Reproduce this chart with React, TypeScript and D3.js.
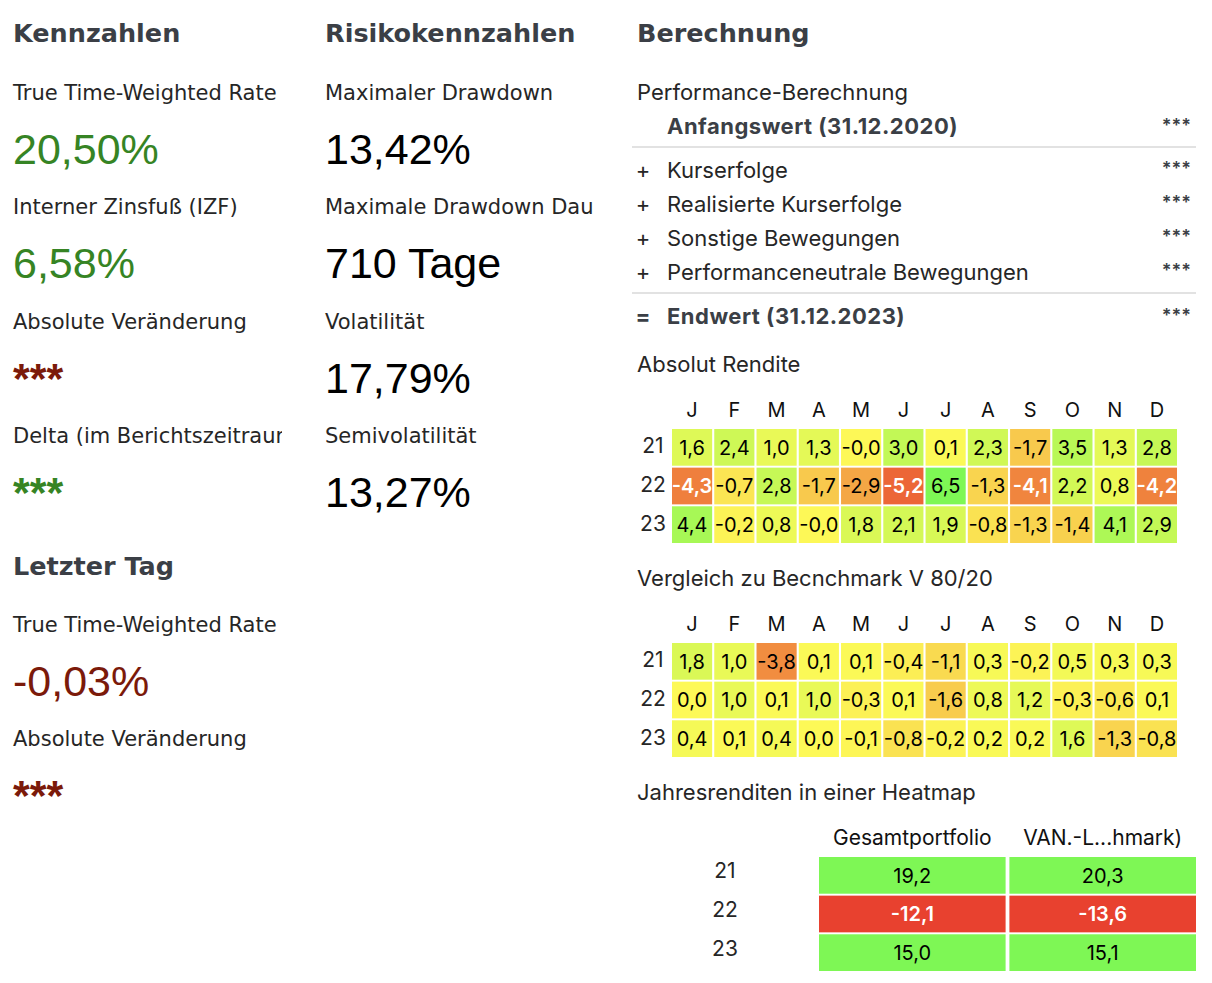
import * as d3 from "d3";

// ---- data ----
const kennLabels = ["True Time-Weighted Rate", "Interner Zinsfuß (IZF)", "Absolute Veränderung", "Delta (im Berichtszeitraum)"];
const kennValues = ["20,50%", "6,58%", "***", "***"];
const kennTones = ["pos", "pos", "neg", "pos"];

const risikoLabels = ["Maximaler Drawdown", "Maximale Drawdown Dauer", "Volatilität", "Semivolatilität"];
const risikoValues = ["13,42%", "710 Tage", "17,79%", "13,27%"];

const letzterLabels = ["True Time-Weighted Rate", "Absolute Veränderung"];
const letzterValues = ["-0,03%", "***"];
const letzterTones = ["neg", "neg"];

const perfSigns = ["+", "+", "+", "+"];
const perfRows = ["Kurserfolge", "Realisierte Kurserfolge", "Sonstige Bewegungen", "Performanceneutrale Bewegungen"];

const months = ["J", "F", "M", "A", "M", "J", "J", "A", "S", "O", "N", "D"];
const years = ["21", "22", "23"];

const absolutRendite = [
  [1.6, 2.4, 1.0, 1.3, -0.02, 3.0, 0.1, 2.3, -1.7, 3.5, 1.3, 2.8],
  [-4.3, -0.7, 2.8, -1.7, -2.9, -5.2, 6.5, -1.3, -4.1, 2.2, 0.8, -4.2],
  [4.4, -0.2, 0.8, -0.02, 1.8, 2.1, 1.9, -0.8, -1.3, -1.4, 4.1, 2.9],
];
const vergleichBenchmark = [
  [1.8, 1.0, -3.8, 0.1, 0.1, -0.4, -1.1, 0.3, -0.2, 0.5, 0.3, 0.3],
  [0.0, 1.0, 0.1, 1.0, -0.3, 0.1, -1.6, 0.8, 1.2, -0.3, -0.6, 0.1],
  [0.4, 0.1, 0.4, 0.0, -0.1, -0.8, -0.2, 0.2, 0.2, 1.6, -1.3, -0.8],
];
const jahresSeries = ["Gesamtportfolio", "VAN.-L...hmark)"];
const gesamtportfolio = [19.2, -12.1, 15.0];
const benchmark = [20.3, -13.6, 15.1];

// ---- style ----
const HEAD = "#3b3f46";
const LABEL = "#262626";
const GREEN = "#368424";
const RED = "#7b1a0a";
const labelFont = "'DejaVu Sans', sans-serif";
const sysFont = "Inter, 'Liberation Sans', sans-serif";
const numFont = "'Liberation Sans', Arial, sans-serif";

const color = d3
  .scaleLinear<string>()
  .domain([-6.5, 0, 6.5])
  .range(["#e8412f", "#fdf957", "#7ef755"])
  .clamp(true);

const fmt = (v: number) => (v < 0 ? "-" : "") + Math.abs(v).toFixed(1).replace(".", ",");
const textColor = (v: number) => (v <= -4 ? "#ffffff" : "#000000");
const toneColor = (t: string) => (t === "pos" ? GREEN : t === "neg" ? RED : "#000");

function Heatmap({ top, data }: { top: number; data: number[][] }) {
  const x = d3.scaleBand<number>().domain(d3.range(months.length)).range([672, 1177]).paddingInner(0.05);
  const y = d3.scaleBand<string>().domain(years).range([top, top + 114]).paddingInner(0.05);
  return (
    <g fontFamily={sysFont}>
      {months.map((m, i) => (
        <text key={i} x={x(i)! + x.bandwidth() / 2} y={top - 12} textAnchor="middle" fontSize={20} fill="#111">
          {m}
        </text>
      ))}
      {years.map((yr, r) => (
        <g key={yr}>
          <text x={653} y={y(yr)! + y.bandwidth() / 2 + 6} textAnchor="middle" fontSize={21} fill={LABEL}>
            {yr}
          </text>
          {data[r].map((v, c) => (
            <g key={c}>
              <rect x={x(c)} y={y(yr)} width={x.bandwidth()} height={y.bandwidth()} fill={color(v)} />
              <text
                x={x(c)! + x.bandwidth() / 2}
                y={y(yr)! + y.bandwidth() / 2}
                dy="0.36em"
                textAnchor="middle"
                fontSize={20}
                fontWeight={v <= -4 ? 600 : 400}
                fill={textColor(v)}
              >
                {fmt(v)}
              </text>
            </g>
          ))}
        </g>
      ))}
    </g>
  );
}

function JahresHeatmap({ top }: { top: number }) {
  const cols = [gesamtportfolio, benchmark];
  const x = d3.scaleBand<string>().domain(jahresSeries).range([819, 1196]).paddingInner(0.02);
  const y = d3.scaleBand<string>().domain(years).range([top, top + 114]).paddingInner(0.05);
  return (
    <g fontFamily={sysFont}>
      {jahresSeries.map((s) => (
        <text key={s} x={x(s)! + x.bandwidth() / 2} y={top - 12} textAnchor="middle" fontSize={21} fill="#111">
          {s}
        </text>
      ))}
      {years.map((yr, r) => (
        <g key={yr}>
          <text x={725} y={y(yr)! + y.bandwidth() / 2 + 3} textAnchor="middle" fontSize={21} fill={LABEL}>
            {yr}
          </text>
          {jahresSeries.map((s, c) => {
            const v = cols[c][r];
            return (
              <g key={s}>
                <rect x={x(s)} y={y(yr)} width={x.bandwidth()} height={y.bandwidth()} fill={color(v)} />
                <text
                  x={x(s)! + x.bandwidth() / 2}
                  y={y(yr)! + y.bandwidth() / 2}
                  dy="0.36em"
                  textAnchor="middle"
                  fontSize={20}
                  fontWeight={v <= -4 ? 600 : 400}
                  fill={textColor(v)}
                >
                  {fmt(v)}
                </text>
              </g>
            );
          })}
        </g>
      ))}
    </g>
  );
}

function Block({ x, labels, values, tones, y0, clip }: {
  x: number; labels: string[]; values: string[]; tones: string[]; y0: number; clip: string;
}) {
  const row = d3.scaleLinear().domain([0, 1]).range([y0, y0 + 114.3]);
  return (
    <g clipPath={`url(#${clip})`}>
      {labels.map((l, i) => (
        <g key={i}>
          <text x={x} y={row(i)} fontFamily={labelFont} fontSize={21} fill={LABEL}>
            {l}
          </text>
          <text
            x={x}
            y={row(i) + 64}
            fontFamily={numFont}
            fontSize={43}
            fontWeight={values[i] === "***" ? "bold" : "normal"}
            fill={toneColor(tones[i])}
          >
            {values[i]}
          </text>
        </g>
      ))}
    </g>
  );
}

export default function App() {
  const perfY = d3.scaleLinear().domain([0, 1]).range([178, 212]);
  return (
    <svg
      width={1212}
      height={983}
      style={{ position: "absolute", left: 0, top: 0, background: "#fff" }}
    >
      <defs>
        <clipPath id="c1">
          <rect x={0} y={0} width={282} height={983} />
        </clipPath>
        <clipPath id="c2">
          <rect x={300} y={0} width={293} height={983} />
        </clipPath>
      </defs>

      {/* headings */}
      <g fontFamily={labelFont} fontWeight="bold" fontSize={25.5} fill={HEAD}>
        <text x={13} y={42}>Kennzahlen</text>
        <text x={325} y={42}>Risikokennzahlen</text>
        <text x={637} y={42}>Berechnung</text>
        <text x={13} y={575}>Letzter Tag</text>
      </g>

      <Block x={13} labels={kennLabels} values={kennValues} tones={kennTones} y0={100} clip="c1" />
      <Block x={325} labels={risikoLabels} values={risikoValues} tones={risikoValues.map(() => "")} y0={100} clip="c2" />
      <Block x={13} labels={letzterLabels} values={letzterValues} tones={letzterTones} y0={632} clip="c1" />

      {/* Berechnung */}
      <g fontFamily={sysFont} fontSize={22} fill={LABEL}>
        <text x={637} y={100}>Performance-Berechnung</text>
        <text x={667} y={134} fontWeight="bold" letterSpacing={0.5} fill={HEAD}>Anfangswert (31.12.2020)</text>
        <text x={1191} y={132} textAnchor="end" fontSize={18} fontWeight={600} fill={HEAD}>***</text>
        <line x1={632} x2={1196} y1={147} y2={147} stroke="#e2e2e2" strokeWidth={2} />
        {perfRows.map((r, i) => (
          <g key={r}>
            <text x={643} y={perfY(i)} textAnchor="middle">{perfSigns[i]}</text>
            <text x={667} y={perfY(i)}>{r}</text>
            <text x={1191} y={perfY(i) - 3} textAnchor="end" fontSize={18} fontWeight={600} fill={HEAD}>***</text>
          </g>
        ))}
        <line x1={632} x2={1196} y1={293} y2={293} stroke="#e2e2e2" strokeWidth={2} />
        <text x={643} y={324} textAnchor="middle" fontWeight="bold" fill={HEAD}>=</text>
        <text x={667} y={324} fontWeight="bold" letterSpacing={0.5} fill={HEAD}>Endwert (31.12.2023)</text>
        <text x={1191} y={322} textAnchor="end" fontSize={18} fontWeight={600} fill={HEAD}>***</text>

        <text x={637} y={372}>Absolut Rendite</text>
        <text x={637} y={586}>Vergleich zu Becnchmark V 80/20</text>
        <text x={637} y={800}>Jahresrenditen in einer Heatmap</text>
      </g>

      <Heatmap top={429} data={absolutRendite} />
      <Heatmap top={643} data={vergleichBenchmark} />
      <JahresHeatmap top={857} />
    </svg>
  );
}
